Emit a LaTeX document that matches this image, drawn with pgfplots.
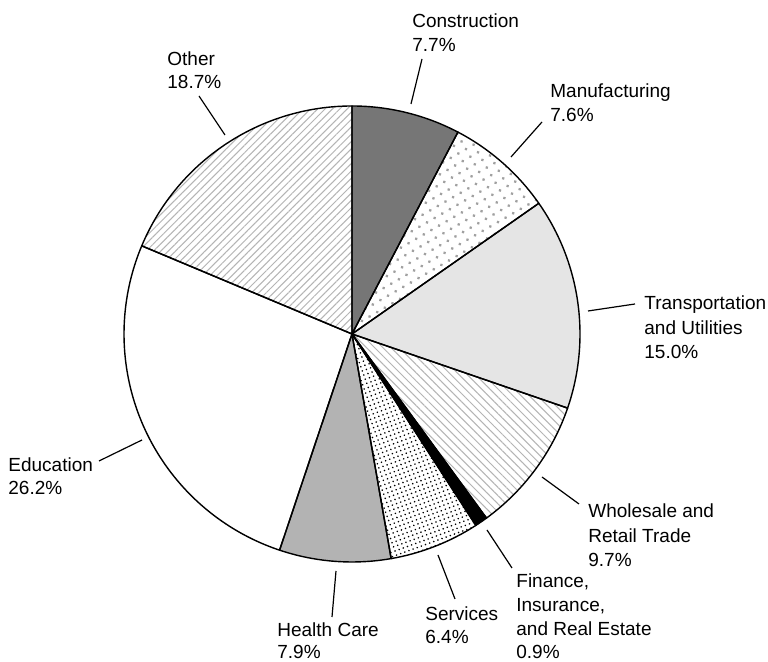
\documentclass[border=0pt]{standalone}
\usepackage{fontspec}
\setmainfont{Liberation Sans}
\usepackage{pgfplots}
\pgfplotsset{compat=1.18}
\usetikzlibrary{patterns.meta}
\definecolor{constr}{HTML}{767676}
\definecolor{transp}{HTML}{E5E5E5}
\definecolor{health}{HTML}{B3B3B3}
\definecolor{hatch}{HTML}{B4B4B4}
\definecolor{mdots}{HTML}{A0A0A0}
% slice: start (cumulative %), share (%), fill style
\newcommand{\slice}[3]{%
  \fill[white] (axis cs:352,328) -- ++({90-(#1)*3.5964}:114pt) arc[start angle={90-(#1)*3.5964}, end angle={90-(#1+#2)*3.5964}, radius=114pt] -- cycle;
  \fill[#3] (axis cs:352,328) -- ++({90-(#1)*3.5964}:114pt) arc[start angle={90-(#1)*3.5964}, end angle={90-(#1+#2)*3.5964}, radius=114pt] -- cycle;
}
\newcommand{\outline}[2]{%
  \draw[line width=0.7pt, line join=round] (axis cs:352,328) -- ++({90-(#1)*3.5964}:114pt) arc[start angle={90-(#1)*3.5964}, end angle={90-(#1+#2)*3.5964}, radius=114pt] -- cycle;
}
\newcommand{\lab}[3]{\node[anchor=base west, inner sep=0pt, font=\fontsize{9.5}{11.4}\selectfont] at (axis cs:#1,#2) {#3};}
\begin{document}
\begin{tikzpicture}
\begin{axis}[x=0.5pt, y=0.5pt, xmin=0, xmax=768, ymin=0, ymax=662,
  hide axis, clip=false]
\coordinate (SW) at (axis cs:0,0);
\coordinate (NE) at (axis cs:768,662);
% Construction 7.7
\slice{0}{7.7}{fill=constr}
% Manufacturing 7.6
\slice{7.7}{7.6}{pattern={Dots[distance=4.4pt, angle=30, radius=0.8pt]}, pattern color=mdots}
% Transportation and Utilities 15.0
\slice{15.3}{15.0}{fill=transp}
% Wholesale and Retail Trade 9.7
\slice{30.3}{9.7}{pattern={Lines[angle=-45, distance=2.9pt, line width=0.5pt]}, pattern color=hatch}
% Finance 0.9
\slice{40.0}{0.9}{fill=black}
% Services 6.4
\slice{40.9}{6.4}{pattern={Dots[distance=2.2pt, angle=20, radius=0.45pt]}, pattern color=black}
% Health Care 7.9
\slice{47.3}{7.9}{fill=health}
% Education 26.2
\slice{55.2}{26.2}{fill=white}
% Other 18.7
\slice{81.4}{18.7}{pattern={Lines[angle=45, distance=2.6pt, line width=0.5pt]}, pattern color=hatch}
\outline{0}{7.7}
\outline{7.7}{7.6}
\outline{15.3}{15.0}
\outline{30.3}{9.7}
\outline{40.0}{0.9}
\outline{40.9}{6.4}
\outline{47.3}{7.9}
\outline{55.2}{26.2}
\outline{81.4}{18.7}
% leader lines
\draw[line width=0.6pt] (axis cs:422,603) -- (axis cs:411,558);
\draw[line width=0.6pt] (axis cs:542,540) -- (axis cs:511,505);
\draw[line width=0.6pt] (axis cs:588,351) -- (axis cs:635,358);
\draw[line width=0.6pt] (axis cs:542,185) -- (axis cs:579,158);
\draw[line width=0.6pt] (axis cs:487,132) -- (axis cs:512,94);
\draw[line width=0.6pt] (axis cs:438,107) -- (axis cs:455,63);
\draw[line width=0.6pt] (axis cs:336,91) -- (axis cs:332,45);
\draw[line width=0.6pt] (axis cs:99,201) -- (axis cs:142,222);
\draw[line width=0.6pt] (axis cs:199,566) -- (axis cs:225,527);
% labels
\lab{412}{634}{Construction}
\lab{412}{610}{7.7\%}
\lab{550}{564}{Manufacturing}
\lab{550}{540}{7.6\%}
\lab{644}{352}{Transportation}
\lab{644}{327}{and Utilities}
\lab{644}{303}{15.0\%}
\lab{588}{144}{Wholesale and}
\lab{588}{119}{Retail Trade}
\lab{588}{95}{9.7\%}
\lab{516}{74}{Finance,}
\lab{516}{50}{Insurance,}
\lab{516}{26}{and Real Estate}
\lab{516}{3}{0.9\%}
\lab{425}{41}{Services}
\lab{425}{18}{6.4\%}
\lab{277}{25}{Health Care}
\lab{277}{3}{7.9\%}
\lab{8}{190}{Education}
\lab{8}{167}{26.2\%}
\lab{167}{596}{Other}
\lab{167}{573}{18.7\%}
\end{axis}
\pgfresetboundingbox
\path[use as bounding box] (SW) rectangle (NE);
\end{tikzpicture}
\end{document}
